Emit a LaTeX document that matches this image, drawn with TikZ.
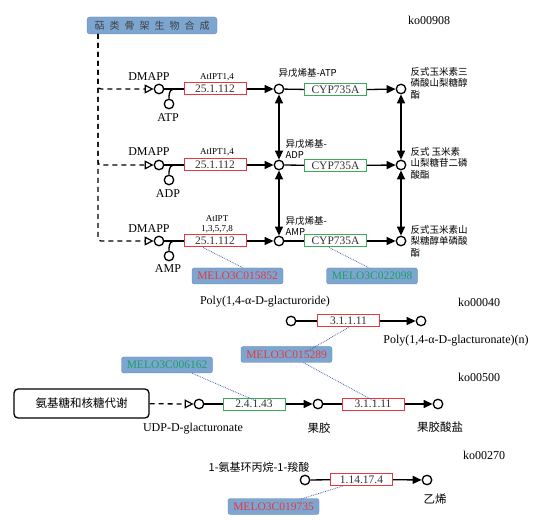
\documentclass[tikz,border=0pt]{standalone}
\usepackage{fontspec}
\setmainfont{Liberation Serif}
\newfontfamily\cjk{Noto Sans CJK SC}
\usetikzlibrary{arrows.meta,positioning}
\definecolor{genefill}{RGB}{124,165,208}
\definecolor{genedraw}{RGB}{100,130,170}
\definecolor{ecred}{RGB}{232,55,63}
\definecolor{ecgreen}{RGB}{60,170,90}
\definecolor{genegreen}{RGB}{30,160,100}
\definecolor{linkblue}{RGB}{70,100,170}

\begin{document}
\begin{tikzpicture}[x=1pt, y=-1pt, >={Triangle[length=9pt,width=8pt]},
  font=\fontsize{12}{13}\selectfont,
  met/.style={circle, draw, line width=1.3pt, minimum size=9.5pt, inner sep=0pt, fill=white},
  ec/.style={draw=ecred, line width=1pt, minimum width=62pt, minimum height=12pt, inner sep=0pt, text=black!80,
    font=\fontsize{11.5}{12}\selectfont},
  ecg/.style={ec, draw=ecgreen},
  gene/.style={draw=genedraw, fill=genefill, rounded corners=2.5pt, minimum width=91pt, minimum height=16pt, inner xsep=2pt, inner ysep=0pt, text=ecred,
    font=\fontsize{11.5}{12}\selectfont},
  geneg/.style={gene, text=genegreen},
  rxn/.style={line width=1.3pt},
  feed/.style={line width=1.3pt, dash pattern=on 5pt off 4pt, -{Triangle[open,length=9pt,width=9pt,line width=1.2pt]}},
  link/.style={linkblue, densely dotted, line width=0.8pt},
  small/.style={font=\fontsize{9}{10.5}\selectfont, align=center},
  zh/.style={font=\cjk\fontsize{9.5}{11.5}\selectfont, align=left, anchor=west},
  zhl/.style={font=\cjk\fontsize{11.5}{13}\selectfont}]
\useasboundingbox (0,0) rectangle (533,521);

% ko00908
\node[draw=genedraw, fill=genefill, rounded corners=3pt, minimum width=130pt, minimum height=17pt, inner sep=0pt,
  font=\cjk\fontsize{10}{12}\selectfont, text=black!75] (terp) at (152,25.5)
  {萜\hspace{5pt}类\hspace{5pt}骨\hspace{5pt}架\hspace{5pt}生\hspace{5pt}物\hspace{5pt}合\hspace{5pt}成};
\node (ko1) at (429,20) {ko00908};
\coordinate (trunk) at (98,34);

% row ATP
\node[met] (dm1) at (159,89) {};
\node (dmt1) at (149,77) {DMAPP};
\node[met] (atp) at (169,104) {};
\node (atpt) at (168,118) {ATP};
\node[ec] (ipt1) at (215,89) {25.1.112};
\node[small] (ipt1l) at (217,77) {AtIPT1,4};
\node[met] (ip1) at (279,89) {};
\node[zh] (ip1l) at (275,73) {异戊烯基-ATP};
\node[ecg] (cyp1) at (335.5,90) {CYP735A};
\node[met] (tz1) at (401,89) {};
\node[zh] (tz1l) at (407,83) {反式玉米素三\\磷酸山梨糖醇\\酯};

% row ADP
\node[met] (dm2) at (159,165) {};
\node (dmt2) at (149,152) {DMAPP};
\node[met] (adp) at (169,180) {};
\node (adpt) at (168,194) {ADP};
\node[ec] (ipt2) at (215,165) {25.1.112};
\node[small] (ipt2l) at (217,152) {AtIPT1,4};
\node[met] (ip2) at (279,165) {};
\node[zh] (ip2l) at (282,149) {异戊烯基-\\ADP};
\node[ecg] (cyp2) at (335.5,165.5) {CYP735A};
\node[met] (tz2) at (401,165) {};
\node[zh] (tz2l) at (407,163) {反式 玉米素\\山梨糖苷二磷\\酸酯};

% row AMP
\node[met] (dm3) at (159,241) {};
\node (dmt3) at (149,229) {DMAPP};
\node[met] (amp) at (169,256) {};
\node (ampt) at (168,269) {AMP};
\node[ec] (ipt3) at (215,241) {25.1.112};
\node[small] (ipt3l) at (217,224) {AtIPT\\1,3,5,7,8};
\node[met] (ip3) at (279,241) {};
\node[zh] (ip3l) at (282,226) {异戊烯基-\\AMP};
\node[ecg] (cyp3) at (335.5,241) {CYP735A};
\node[met] (tz3) at (401,241) {};
\node[zh] (tz3l) at (407,241) {反式玉米素山\\梨糖醇单磷酸\\酯};

\node[gene] (g1) at (237.5,276) {MELO3C015852};
\node[geneg] (g2) at (372,276) {MELO3C022098};

\draw[feed, rounded corners=3pt] (trunk) |- (dm3);
\draw[feed, rounded corners=3pt] (trunk) |- (dm1);
\draw[feed, rounded corners=3pt] (trunk) |- (dm2);

\draw[rxn] (dm1) -- (ipt1); \draw[rxn,->] (ipt1) -- (ip1);
\draw[rxn] (ip1) -- (cyp1); \draw[rxn,->] (cyp1) -- (tz1);
\draw[rxn] (dm2) -- (ipt2); \draw[rxn,->] (ipt2) -- (ip2);
\draw[rxn] (ip2) -- (cyp2); \draw[rxn,->] (cyp2) -- (tz2);
\draw[rxn] (dm3) -- (ipt3); \draw[rxn,->] (ipt3) -- (ip3);
\draw[rxn] (ip3) -- (cyp3); \draw[rxn,->] (cyp3) -- (tz3);
\draw[rxn] (atp.north) .. controls +(0,-8) and +(-6,0) .. ([xshift=12pt]dm1.east);
\draw[rxn] (adp.north) .. controls +(0,-8) and +(-6,0) .. ([xshift=12pt]dm2.east);
\draw[rxn] (amp.north) .. controls +(0,-8) and +(-6,0) .. ([xshift=12pt]dm3.east);

\draw[rxn,<->] (ip1) -- (ip2);
\draw[rxn,<->] (ip2) -- (ip3);
\draw[rxn,<->] (tz1) -- (tz2);
\draw[rxn,<->] (tz2) -- (tz3);

\draw[link] ([xshift=-12pt]ipt3.south) -- ([xshift=5.5pt]g1.north);
\draw[link] ([xshift=-6.5pt]cyp3.south) -- ([xshift=-3pt]g2.north);

% ko00040
\node (pg) at (265,302) {Poly(1,4-α-D-glacturoride)};
\node (ko2) at (479,302) {ko00040};
\node[met] (pg1) at (291,321) {};
\node[ec] (pme1) at (348.5,321) {3.1.1.11};
\node[met] (pg2) at (421,321) {};
\node (pgn) at (456,341) {Poly(1,4-α-D-glacturonate)(n)};
\node[gene] (g3) at (286.5,354.5) {MELO3C015289};

\draw[rxn] (pg1) -- (pme1); \draw[rxn,->] (pme1) -- (pg2);
\draw[link] (pme1.south) -- ([xshift=19pt,yshift=-6pt]g3.north);

% ko00500
\node (ko3) at (479,377) {ko00500};
\node[draw, rounded corners=4pt, line width=1.3pt, minimum width=135pt, minimum height=29pt, zhl] (amino) at (81.5,403.5) {氨基糖和核糖代谢};
\node[met] (udp) at (199,404) {};
\node (udpt) at (193,429) {UDP-D-glacturonate};
\node[ecg] (gt) at (254,404) {2.4.1.43};
\node[met] (pec) at (318,404) {};
\node[zhl] (pect) at (319,428) {果胶};
\node[ec] (pme2) at (373,404) {3.1.1.11};
\node[met] (pea) at (438,404) {};
\node[zhl] (peat) at (440,427) {果胶酸盐};
\node[geneg] (g4) at (167,365) {MELO3C006162};

\draw[feed] (amino) -- (udp);
\draw[rxn] (udp) -- (gt); \draw[rxn,->] (gt) -- (pec);
\draw[rxn] (pec) -- (pme2); \draw[rxn,->] (pme2) -- (pea);
\draw[link] ([xshift=25pt]g4.south) -- ([xshift=1pt,yshift=-3pt]gt.north);
\draw[link] ([xshift=17pt]g3.south) -- ([xshift=2pt,yshift=-4pt]pme2.north);

% ko00270
\node (ko4) at (484,455) {ko00270};
\node[zhl, font=\cjk\fontsize{11}{13}\selectfont] (acc) at (259,467) {1-氨基环丙烷-1-羧酸};
\node[met] (acc1) at (305,480) {};
\node[ec] (aco) at (361.5,479.5) {1.14.17.4};
\node[met] (eth) at (427,480) {};
\node[zhl] (etht) at (435,499) {乙烯};
\node[gene] (g5) at (273.5,506.5) {MELO3C019735};

\draw[rxn] (acc1) -- (aco); \draw[rxn,->] (aco) -- (eth);
\draw[link] ([xshift=-18.5pt]aco.south) -- ([xshift=26.5pt,yshift=-1pt]g5.north);
\end{tikzpicture}
\end{document}
